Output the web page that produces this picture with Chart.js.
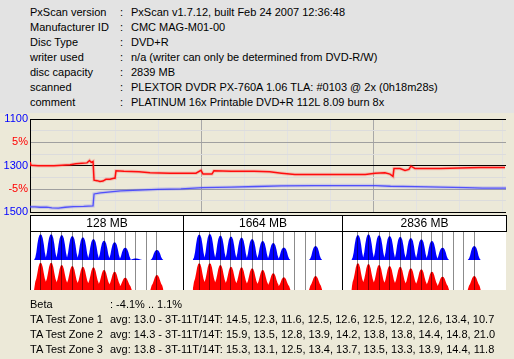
<!DOCTYPE html>
<html><head><meta charset="utf-8">
<script src="https://cdn.jsdelivr.net/npm/chart.js@4.4.0/dist/chart.umd.min.js"></script>
<style>
html,body{margin:0;padding:0;}
body{width:514px;height:359px;background:#ece9d8;position:relative;overflow:hidden;font-family:"Liberation Sans",Arial,sans-serif;font-size:11px;color:#000;}
#info{position:absolute;left:0;top:0;width:514px;height:113px;background:#e3e3e3;}
.t{position:absolute;height:15px;line-height:15px;white-space:nowrap;}
.ln{position:absolute;background:#000;}
canvas{position:absolute;}
#panel{position:absolute;left:30px;top:215px;width:476px;height:75px;background:#fff;}
.hd{position:absolute;top:216px;height:15px;line-height:15px;text-align:center;white-space:nowrap;font-size:12px;}
</style>
</head>
<body>
<div id="info"></div>
<canvas id="top" width="514" height="112" style="left:0;top:109px;"></canvas>
<div id="panel"></div>
<canvas id="hist" width="476" height="59" style="left:30px;top:231px;"></canvas>
<div id="overlay"></div>
<div id="bottom"></div>
<script>
// ---------- text data ----------
const infoLabels = ["PxScan version","Manufacturer ID","Disc Type","writer used","disc capacity","scanned","comment"];
const infoValues = ["PxScan v1.7.12, built Feb 24 2007 12:36:48","CMC MAG-M01-00","DVD+R","n/a (writer can only be determined from DVD-R/W)","2839 MB","PLEXTOR DVDR PX-760A 1.06 TLA: #0103 @ 2x (0h18m28s)","PLATINUM 16x Printable DVD+R 112L 8.09 burn 8x"];
const bottomLabels = ["Beta","TA Test Zone 1","TA Test Zone 2","TA Test Zone 3"];
const bottomValues = [": -4.1% .. 1.1%",
 "avg: 13.0 - 3T-11T/14T: 14.5, 12.3, 11.6, 12.5, 12.6, 12.5, 12.2, 12.6, 13.4, 10.7",
 "avg: 14.3 - 3T-11T/14T: 15.9, 13.5, 12.8, 13.9, 14.2, 13.8, 13.8, 14.4, 14.8, 21.0",
 "avg: 13.8 - 3T-11T/14T: 15.3, 13.1, 12.5, 13.4, 13.7, 13.5, 13.3, 13.9, 14.4, 11.8"];
const sectionLabels = ["128 MB","1664 MB","2836 MB"];

// ---------- top chart data ----------
const redMB   = [0,6,48,95,143,191,239,274,310,340,355,365,376,382,400,417,435,453,477,500,507,513,560,650,716,835,990,1020,1032,1085,1097,1200,1336,1430,1500,1580,1670,1790,1910,2000,2058,2117,2147,2165,2171,2207,2237,2260,2272,2296,2445,2565,2684,2833];
const redBeta = [0.8,0.1,0.0,0.0,0.0,0.1,0.2,0.4,0.5,0.6,1.1,0.7,0.9,-3.1,-3.2,-3.4,-3.3,-2.9,-2.9,-2.7,-2.7,-1.1,-1.2,-1.3,-1.5,-1.6,-1.6,-1.0,-1.8,-1.8,-1.1,-1.2,-1.2,-1.3,-1.6,-1.9,-1.9,-1.9,-1.9,-1.9,-1.6,-1.5,-1.8,-2.3,-0.6,-0.6,-1.0,-0.8,-0.1,-0.6,-0.6,-0.5,-0.4,-0.4];
const blueMB  = [0,30,60,100,130,170,210,260,320,376,382,420,480,540,650,760,900,1030,1200,1350,1500,1700,1900,2060,2150,2300,2450,2600,2700,2839];
const blueVal = [1476,1476,1478,1477,1481,1482,1478,1475,1474,1472,1421,1416,1412,1408,1405,1401,1399,1394,1392,1389,1386,1385,1385,1385,1388,1390,1392,1394,1396,1396];
const gridMB = [256,512,768,1024,1280,1536,1792,2048,2304,2560,2816];
const majorMB = [1024,2048];
const yTickValues = [1100,1150,1200,1250,1300,1350,1400,1450,1500];
const yTickLabels = ["1100","","5%","","1300","","-5%","","1500"];
const yTickKinds  = ["blue","","red","","blue","","red","","blue"];

// ---------- histogram data (3T..11T, 12T, 13T, 14T) ----------
const tLengths = [3,4,5,6,7,8,9,10,11,12,13,14];
const blueSec1 = [25.7,25.7,25,24,22.7,21,19.3,17.7,12.3,1.5,0,10];
const blueSec2 = [25.5,26,24.5,23.5,22.5,21,19,17,12.5,0,0,14];
const blueSec3 = [25,25.7,24.7,24,23.3,22,20.7,19,12.3,0,0,14];
const redSec1  = [27.3,27.3,25,24,23.3,22.7,20,18.3,12.3,0,0,15];
const redSec2  = [26.7,26.7,25,23.3,22.7,21.7,20,16.7,12.7,0,0,14];
const redSec3  = [26.7,26,25,24,23.3,21.7,20.7,18.3,13.3,0,0,14];
const peakOffsets = [-0.5,-0.4,-0.3,-0.2,-0.1,0,0.1,0.2,0.3,0.4,0.5];
const blueProfile = [0.1,0.3,0.62,0.86,0.97,1,0.97,0.86,0.62,0.3,0.1];
const redProfile  = [0.3,0.42,0.62,0.84,0.97,1,0.97,0.84,0.62,0.42,0.3];
const sectionSpan = 15;

// ---------- build text ----------
function addText(parent, x, y, s){
  const d=document.createElement('div'); d.className='t'; d.style.left=x+'px'; d.style.top=y+'px'; d.textContent=s;
  parent.appendChild(d); return d;
}
const info=document.getElementById('info');
infoLabels.forEach((l,i)=>{ addText(info,30,5+15*i,l); addText(info,120,5+15*i,':'); addText(info,131,5+15*i,infoValues[i]); });
const bottom=document.getElementById('bottom');
bottomLabels.forEach((l,i)=>{ addText(bottom,30,297+15*i,l); addText(bottom,110,297+15*i,bottomValues[i]); });

// panel lines and headers
const ov=document.getElementById('overlay');
function line(x,y,w,h){const d=document.createElement('div');d.className='ln';Object.assign(d.style,{left:x+'px',top:y+'px',width:w+'px',height:h+'px'});ov.appendChild(d);}
line(30,215,477,1); line(30,231,477,1); line(30,215,1,75); line(183,215,1,75); line(342,215,1,75); line(506,215,1,17);
const secBounds=[[31,183],[184,342],[343,506]];
sectionLabels.forEach((s,i)=>{const d=document.createElement('div');d.className='hd';d.style.left=secBounds[i][0]+'px';d.style.width=(secBounds[i][1]-secBounds[i][0])+'px';d.textContent=s;ov.appendChild(d);});

// ---------- top chart ----------
const pts=(xs,ys)=>xs.map((x,i)=>({x:x,y:ys[i]}));
const fontSpec={family:'"Liberation Sans", Arial, sans-serif',size:11};
new Chart(document.getElementById('top'),{
  type:'line',
  data:{datasets:[
    {data:pts(blueMB,blueVal),yAxisID:'y',borderColor:'rgba(90,90,255,0.22)',borderWidth:3.5,pointRadius:0},
    {data:pts(blueMB,blueVal),yAxisID:'y',borderColor:'rgba(50,50,255,0.85)',borderWidth:1.3,pointRadius:0},
    {data:pts(redMB,redBeta),yAxisID:'y2',borderColor:'rgba(255,60,60,0.22)',borderWidth:3.5,pointRadius:0},
    {data:pts(redMB,redBeta),yAxisID:'y2',borderColor:'#ff0000',borderWidth:1.5,pointRadius:0}
  ]},
  options:{
    responsive:false,animation:false,devicePixelRatio:1,
    layout:{padding:{top:10,bottom:6,left:0,right:8}},
    plugins:{legend:{display:false},tooltip:{enabled:false}},
    scales:{
      x:{type:'linear',min:0,max:2839,
        afterBuildTicks:s=>{s.ticks=gridMB.map(v=>({value:v}));},
        afterFit:s=>{s.height=0;},
        ticks:{display:false},
        grid:{drawTicks:false,color:c=>majorMB.includes(c.tick.value)?'#a8a8a8':'#e2e2e2'},
        border:{display:false}},
      y:{type:'linear',min:1100,max:1500,reverse:true,position:'left',
        afterBuildTicks:s=>{s.ticks=yTickValues.map(v=>({value:v}));},
        afterFit:s=>{s.width=30;},
        ticks:{padding:2,font:fontSpec,autoSkip:false,
          callback:(v)=>{const i=yTickValues.indexOf(v);return i<0?'':yTickLabels[i];},
          color:c=>{const i=yTickValues.indexOf(c.tick.value);return yTickKinds[i]==='red'?'#ff0000':'#0000ff';}},
        grid:{drawTicks:false,color:c=>{const i=yTickValues.indexOf(c.tick.value);const k=yTickKinds[i];return k==='blue'?'#000000':(k==='red'?'#a0a0a0':'#dcdcdc');}},
        border:{display:true,color:'#000'}},
      y2:{type:'linear',min:-10,max:10,display:false}
    }
  }
});

// ---------- histogram chart ----------
function buildPeaks(heights, sec, profile){
  const out=[];
  heights.forEach((h,i)=>{
    if(!(h>0)) return;
    const c=sec*sectionSpan+tLengths[i];
    const prev=i>0&&heights[i-1]>0, next=i<heights.length-1&&heights[i+1]>0;
    if(!prev) out.push({x:c-0.62,y:0});
    peakOffsets.forEach((o,k)=>out.push({x:c+o,y:h*profile[k]}));
    if(!next) out.push({x:c+0.62,y:0});
  });
  return out;
}
const tLines=[];
[0,1,2].forEach(s=>tLengths.forEach(t=>tLines.push(s*sectionSpan+t)));
const histSets=[];
[[blueSec1,0],[blueSec2,1],[blueSec3,2]].forEach(([h,s])=>histSets.push({data:buildPeaks(h,s,blueProfile),yAxisID:'yb',borderColor:'rgba(0,0,0,0)',borderWidth:0,backgroundColor:'#0000ff',fill:'origin',pointRadius:0}));
[[redSec1,0],[redSec2,1],[redSec3,2]].forEach(([h,s])=>histSets.push({data:buildPeaks(h,s,redProfile),yAxisID:'yr',borderColor:'rgba(0,0,0,0)',borderWidth:0,backgroundColor:'#ff0000',fill:'origin',pointRadius:0}));
new Chart(document.getElementById('hist'),{
  type:'line',
  data:{datasets:histSets},
  options:{
    responsive:false,animation:false,devicePixelRatio:1,
    layout:{padding:0},
    plugins:{legend:{display:false},tooltip:{enabled:false}},
    scales:{
      x:{type:'linear',min:2,max:47,
        afterBuildTicks:s=>{s.ticks=tLines.map(v=>({value:v}));},
        afterFit:s=>{s.height=0;},
        ticks:{display:false},
        grid:{drawTicks:false,z:1,color:'rgba(0,0,0,0.45)'},
        border:{display:false}},
      yb:{type:'linear',min:-30,max:29,display:false},
      yr:{type:'linear',min:0,max:59,display:false}
    }
  }
});
</script>
</body></html>
